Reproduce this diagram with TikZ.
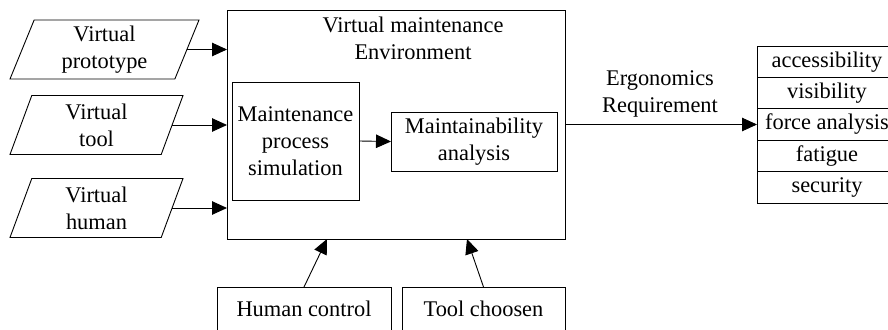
\documentclass[tikz,border=0pt]{standalone}
\usepackage{fontspec}
\setmainfont{Liberation Serif}
\usetikzlibrary{arrows.meta,shapes.geometric}
\begin{document}
\begin{tikzpicture}[x=1pt,y=-1pt,
  font=\fontsize{22.4}{27}\selectfont,
  every node/.style={inner sep=0pt, outer sep=0pt},
  box/.style={draw, line width=0.9pt, align=center},
  para/.style={draw, line width=0.9pt, trapezium, trapezium left angle=63,
    trapezium right angle=117, trapezium stretches body,
    minimum height=59pt, align=center},
  link/.style={line width=0.9pt, -{Triangle[length=15pt,width=13.5pt]}},
  cell/.style={draw, line width=0.9pt, minimum width=140pt, minimum height=31.4pt}
]
\useasboundingbox (0,0) rectangle (888,329);
\clip (0,0) rectangle (888,329);

% environment frame and its contents
\node[box, minimum width=338pt, minimum height=229pt] (env) at (396,124.5) {};
\node[align=center] (envt) at (413,38.5) {Virtual maintenance\\Environment};
\node[box, minimum width=127pt, minimum height=118pt] (sim) at (295.5,141)
  {Maintenance\\process\\simulation};
\node[box, minimum width=166pt, minimum height=59pt] (ana) at (474,141.5)
  {Maintainability\\analysis};
\draw[link] (sim.east) -- (ana.west);

% inputs on the left
\node[para, minimum width=189pt] (vp) at (104.5,49.5) {Virtual\\prototype};
\node[para, minimum width=173pt] (vt) at (96.5,125) {Virtual\\tool};
\node[para, minimum width=173pt] (vh) at (96.5,208) {Virtual\\human};
\foreach \p in {vp,vt,vh}
  \draw[link] (\p.east) -- (\p.east -| env.west);

% controls below
\node[box, minimum width=174pt, minimum height=44pt] (hc) at (304,309) {Human control};
\node[box, minimum width=163pt, minimum height=44pt] (tc) at (483.5,309) {Tool choosen};
\coordinate (inh) at (327,239);
\coordinate (int) at (467,239);
\draw[link] (hc.north) -- (inh);
\draw[link] (tc.north) -- (int);

% ergonomics requirements table
\node[cell] (c1) at (827,61.7)  {accessibility};
\node[cell] (c2) at (827,93.1)  {visibility};
\node[cell] (c3) at (827,124.5) {force analysis};
\node[cell] (c4) at (827,155.9) {fatigue};
\node[cell] (c5) at (827,187.3) {security};
\node[align=center] (erg) at (660,93.5) {Ergonomics\\Requirement};
\draw[link] (env.east) -- (c3.west);
\end{tikzpicture}
\end{document}
